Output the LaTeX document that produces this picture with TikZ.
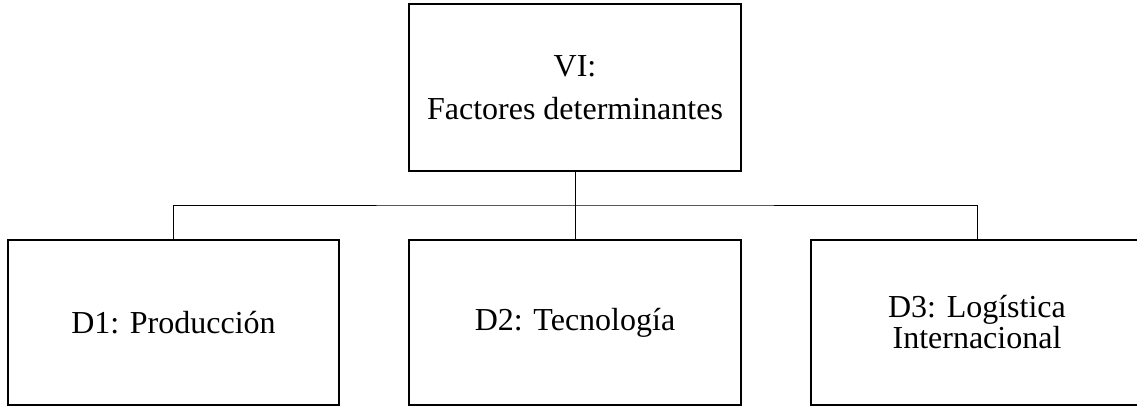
\documentclass[tikz,border=0pt]{standalone}
\usepackage{fontspec}
\setmainfont{Liberation Serif}
\begin{document}
\begin{tikzpicture}[x=1pt,y=-1pt,
  box/.style={draw=black,line width=1.6pt,minimum width=332pt,inner sep=0pt,align=center,font=\fontsize{32}{31}\selectfont},
  conn/.style={draw=black,line width=0.9pt}]
\useasboundingbox (0,0) rectangle (1137,405);
\clip (0,0) rectangle (1137,405);
\node[box,minimum height=167pt,font=\fontsize{32}{43}\selectfont] (top) at (575,87.5) {VI:\\Factores determinantes};
\node[box,minimum width=331pt,minimum height=165pt] (d1) at (173.5,322.5) {D1: Producción};
\node[box,minimum height=165pt] (d2) at (575,322.5) {D2: Tecnología};
\node[box,minimum height=165pt] (d3) at (977,322.5) {D3: Logística\\Internacional};
\coordinate (bar) at (575,205);
\draw[conn] (top.south) -- (d2.north);
\draw[conn] (d1.north) |- (bar) -| (d3.north);
\end{tikzpicture}
\end{document}
